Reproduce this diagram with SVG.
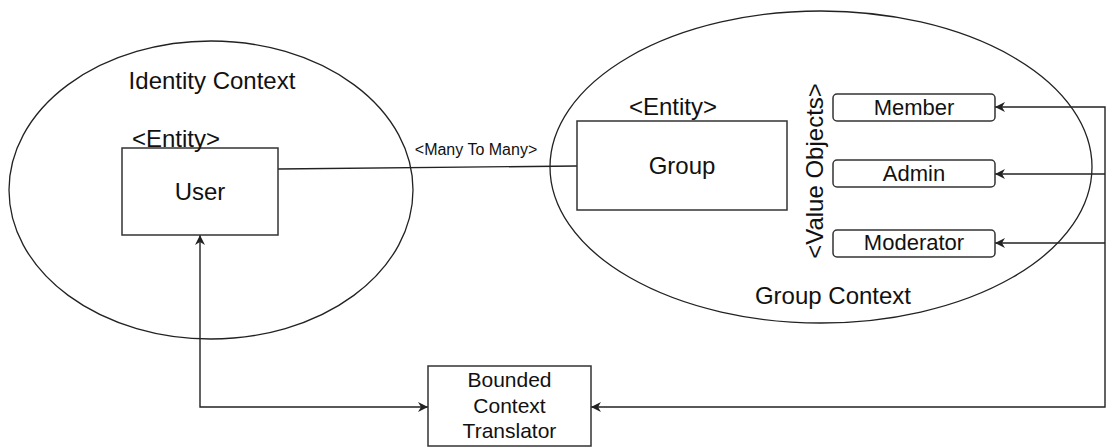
<svg xmlns="http://www.w3.org/2000/svg" width="1107" height="448" viewBox="0 0 1107 448">
<defs>
<style>
.ctx{fill:none;stroke:#222;stroke-width:1.3}
.box{fill:#fff;stroke:#333;stroke-width:1.5}
.vo{fill:#fff;stroke:#333;stroke-width:1.5}
.t{font-family:"Liberation Sans",Arial,sans-serif;fill:#111;text-anchor:middle}
.big{font-size:24px}
.mid{font-size:22px}
.small{font-size:16px}
.tr{font-size:21px}
.conn{fill:none;stroke:#222;stroke-width:1.4}
</style>
<marker id="arr" viewBox="0 0 10 10" refX="10" refY="5" markerWidth="10" markerHeight="10" markerUnits="userSpaceOnUse" orient="auto-start-reverse">
<path d="M0,0 L10,5 L0,10 L3,5 z" fill="#222"/>
</marker>
</defs>
<rect width="1107" height="448" fill="#fff"/>

<g id="identity-context">
<ellipse class="ctx" cx="211" cy="190" rx="202" ry="149"/>
<text class="t big" x="212" y="89">Identity Context</text>
</g>

<g id="group-context">
<ellipse class="ctx" cx="821" cy="167" rx="271" ry="156"/>
<text class="t big" x="833" y="304">Group Context</text>
<text class="t big" transform="translate(823,171) rotate(-90)">&lt;Value Objects&gt;</text>
</g>

<g id="connectors">
<line class="conn" x1="278" y1="169" x2="577" y2="166"/>
<text class="t small" x="476" y="155">&lt;Many To Many&gt;</text>
<path class="conn" d="M200,235 V407 H428" marker-start="url(#arr)" marker-end="url(#arr)"/>
<path class="conn" d="M591,407 H1105 V107 H995" marker-start="url(#arr)" marker-end="url(#arr)"/>
<path class="conn" d="M1105,174 H995" marker-end="url(#arr)"/>
<path class="conn" d="M1105,243 H995" marker-end="url(#arr)"/>
</g>

<g id="user">
<rect class="box" x="122" y="148" width="156" height="87"/>
<text class="t big" x="176" y="147">&lt;Entity&gt;</text>
<text class="t big" x="200" y="200">User</text>
</g>

<g id="group">
<rect class="box" x="577" y="121" width="210" height="89"/>
<text class="t big" x="673" y="115">&lt;Entity&gt;</text>
<text class="t big" x="682" y="174">Group</text>
</g>

<g id="member">
<rect class="vo" x="833" y="94" width="162" height="27" rx="4"/>
<text class="t mid" x="914" y="115">Member</text>
</g>

<g id="admin">
<rect class="vo" x="833" y="160" width="162" height="27" rx="4"/>
<text class="t mid" x="914" y="181">Admin</text>
</g>

<g id="moderator">
<rect class="vo" x="833" y="230" width="162" height="27" rx="4"/>
<text class="t mid" x="914" y="250">Moderator</text>
</g>

<g id="translator">
<rect class="box" x="428" y="366" width="163" height="80"/>
<text class="t tr" x="509.5" y="387">Bounded</text>
<text class="t tr" x="509.5" y="413">Context</text>
<text class="t tr" x="509.5" y="438">Translator</text>
</g>
</svg>
